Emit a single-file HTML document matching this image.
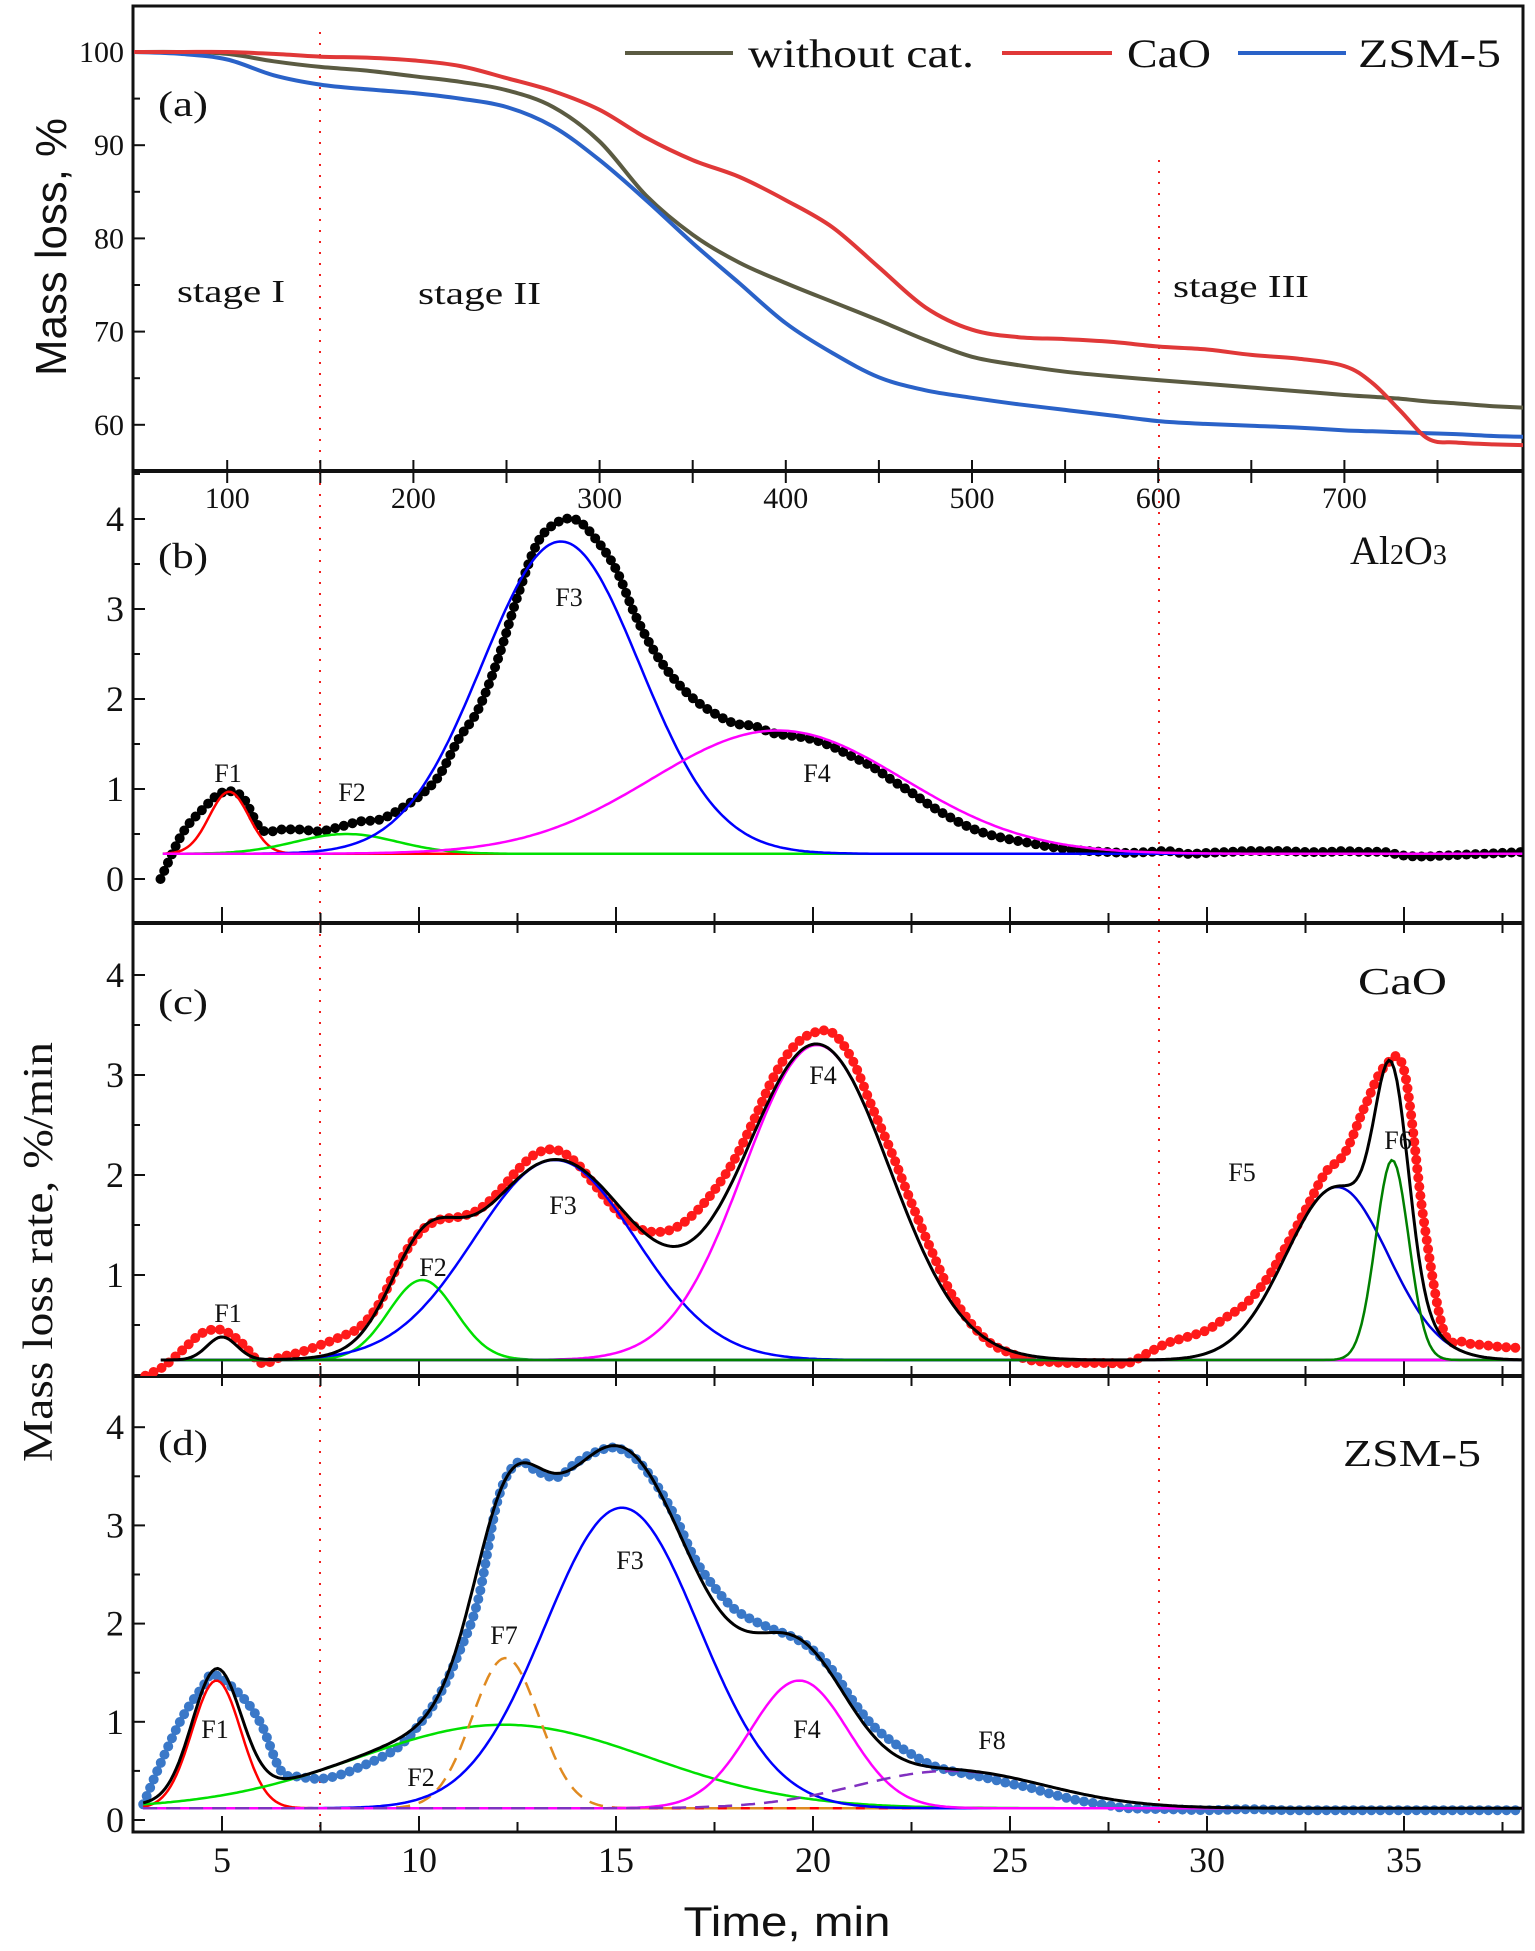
<!DOCTYPE html>
<html><head><meta charset="utf-8">
<style>
html,body{margin:0;padding:0;background:#fff;}
svg{display:block;}
text{font-family:"Liberation Serif",serif;fill:#111;}
.sans{font-family:"Liberation Sans",sans-serif;}
</style></head>
<body>
<svg id="chart" width="1535" height="1951" viewBox="0 0 1535 1951" xmlns="http://www.w3.org/2000/svg">
<defs>
<clipPath id="clipA"><rect x="133" y="6" width="1390" height="465"/></clipPath>
<clipPath id="clipB"><rect x="133" y="471" width="1390" height="452"/></clipPath>
<clipPath id="clipC"><rect x="133" y="923" width="1390" height="453"/></clipPath>
<clipPath id="clipD"><rect x="133" y="1376" width="1390" height="456"/></clipPath>
</defs>
<g id="layer"></g>
</svg>
<script>
// ---------- Panel (a) data: temperature (°C) vs mass (%) ----------
const tempA = [50,75,100,125,150,175,200,225,250,275,300,325,350,375,400,425,450,475,500,525,550,575,600,625,650,675,700,715,730,745,760,780,800];
const massNoCat = [100,100,99.8,99,98.4,98,97.4,96.8,95.9,94.1,90.4,84.6,80.4,77.4,75.2,73.2,71.2,69.1,67.3,66.4,65.7,65.2,64.8,64.4,64.0,63.6,63.2,63.0,62.8,62.5,62.3,62.0,61.8];
const massCaO = [100,100,100,99.8,99.5,99.4,99.1,98.5,97.2,95.8,93.8,90.8,88.4,86.6,84.1,81.2,76.9,72.6,70.2,69.4,69.2,68.9,68.4,68.1,67.5,67.1,66.3,64.5,61.5,58.5,58.1,57.9,57.8];
const massZSM = [100,99.8,99.2,97.5,96.5,96.0,95.6,95.0,94.1,92.0,88.4,84.1,79.5,75.2,70.9,67.7,65.1,63.7,62.9,62.2,61.6,61.0,60.4,60.1,59.9,59.7,59.4,59.3,59.2,59.1,59.0,58.8,58.7];
const tickA_x = [100,200,300,400,500,600,700];
const tickA_y = [60,70,80,90,100];

// ---------- Panels (b)-(d): time (min) vs rate (%/min) ----------
const timeB = [3.44,4,4.5,5,5.5,6,6.5,7,7.5,8,8.5,9,9.5,10,10.5,11,11.5,12,12.5,13,13.5,14,14.5,15,15.5,16,16.5,17,17.5,18,18.5,19,19.5,20,20.5,21,21.5,22,22.5,23,23.5,24,24.5,25,25.5,26,26.5,27,27.5,28,28.5,29,29.5,30,30.5,31,31.5,32,32.5,33,33.5,34,34.5,35,35.5,36,36.5,37,37.5,38];
const rateB = [0,0.51,0.77,0.96,0.92,0.55,0.55,0.55,0.53,0.58,0.64,0.66,0.77,0.92,1.14,1.55,1.88,2.44,3.14,3.73,3.96,3.99,3.77,3.44,2.92,2.51,2.21,1.99,1.84,1.73,1.7,1.62,1.59,1.55,1.47,1.36,1.25,1.1,0.96,0.81,0.68,0.57,0.49,0.44,0.4,0.36,0.33,0.31,0.3,0.29,0.3,0.31,0.28,0.29,0.3,0.31,0.31,0.31,0.3,0.3,0.31,0.3,0.3,0.26,0.25,0.26,0.27,0.28,0.29,0.3];
const timeC = [2.7,3,3.5,4,4.5,5,5.5,6,6.5,7,7.5,8,8.5,9,9.5,10,10.5,11,11.5,12,12.5,13,13.5,14,14.5,15,15.5,16,16.5,17,17.5,18,18.5,19,19.5,20,20.5,21,21.5,22,22.5,23,23.5,24,24.5,25,25.5,26,26.5,27,27.5,28,28.5,29,29.5,30,30.5,31,31.5,32,32.5,33,33.5,34,34.5,35,35.5,36,36.5,37,37.5,38];
const rateC = [-0.12,-0.02,0.08,0.25,0.42,0.45,0.32,0.12,0.18,0.23,0.3,0.38,0.48,0.72,1.12,1.42,1.55,1.58,1.65,1.82,2.05,2.22,2.25,2.12,1.88,1.65,1.48,1.43,1.47,1.62,1.85,2.15,2.55,2.98,3.28,3.42,3.42,3.15,2.68,2.22,1.72,1.25,0.82,0.52,0.32,0.22,0.15,0.13,0.12,0.12,0.12,0.12,0.22,0.32,0.38,0.45,0.58,0.72,0.95,1.28,1.65,2.02,2.22,2.68,3.08,3.05,1.55,0.45,0.33,0.3,0.28,0.27];
const timeD = [3,3.5,4,4.5,4.8,5.5,6,6.5,7,7.5,8,8.5,9,9.5,10,10.5,11,11.5,12,12.5,13,13.5,14,14.5,15,15.5,16,16.5,17,17.5,18,18.5,19,19.5,20,20.5,21,21.5,22,22.5,23,23.5,24,24.5,25,25.5,26,26.5,27,27.5,28,29,30,31,32,33,34,35,36,37,38];
const rateD = [0.16,0.63,1.05,1.35,1.48,1.26,0.97,0.5,0.44,0.42,0.46,0.54,0.63,0.75,0.97,1.26,1.69,2.24,3.26,3.64,3.55,3.49,3.64,3.75,3.79,3.68,3.43,3.09,2.66,2.37,2.15,2.03,1.94,1.86,1.73,1.52,1.22,0.97,0.8,0.67,0.56,0.5,0.46,0.42,0.37,0.33,0.27,0.22,0.18,0.15,0.12,0.11,0.1,0.11,0.1,0.1,0.1,0.1,0.1,0.1,0.1];

// fitted peak parameters: [label, amplitude, centre(min), sigma(min)]
const peaksB = [["F1",0.69,5.18,0.5],["F2",0.22,8.16,1.3],["F3",3.47,13.6,2.0],["F4",1.37,19.1,3.2]];
const peaksC = [["F1",0.23,5.0,0.38],["F2",0.8,10.08,0.85],["F3",2.0,13.45,2.05],["F4",3.15,20.1,1.85],["F5",1.73,33.3,1.3],["F6",2.0,34.7,0.42]];
const peaksD = [["F1",1.3,4.86,0.62],["F2",0.85,12.15,3.7],["F7",1.53,12.2,0.85],["F3",3.06,15.15,1.95],["F4",1.3,19.65,1.25],["F8",0.38,23.5,2.4]];
const baseB = 0.28, baseC = 0.15, baseD = 0.12;
const tickTime = [5,10,15,20,25,30,35];
const tickRate = [0,1,2,3,4];

// ---------- helpers ----------
const NS = "http://www.w3.org/2000/svg";
const layer = document.getElementById("layer");
function mk(tag, attrs, parent){ const e=document.createElementNS(NS,tag); for(const k in attrs) e.setAttribute(k,attrs[k]); (parent||layer).appendChild(e); return e; }
function txt(s, attrs, parent){ const e=mk("text",attrs,parent); e.textContent=s; return e; }
function smoothPath(pts){
  let d="M"+pts[0][0].toFixed(1)+","+pts[0][1].toFixed(1);
  for(let i=0;i<pts.length-1;i++){
    const p0=pts[Math.max(i-1,0)], p1=pts[i], p2=pts[i+1], p3=pts[Math.min(i+2,pts.length-1)];
    const c1=[p1[0]+(p2[0]-p0[0])/6, p1[1]+(p2[1]-p0[1])/6];
    const c2=[p2[0]-(p3[0]-p1[0])/6, p2[1]-(p3[1]-p1[1])/6];
    d+=" C"+c1[0].toFixed(1)+","+c1[1].toFixed(1)+" "+c2[0].toFixed(1)+","+c2[1].toFixed(1)+" "+p2[0].toFixed(1)+","+p2[1].toFixed(1);
  }
  return d;
}

const XT = T => 41 + 1.862*T;
const YA = v => 52 + (100 - v)*9.32;
const XM = t => 25 + 39.4*t;
const panels = {
  b:{y0:879,k:90,top:471,bot:923},
  c:{y0:1375,k:100,top:923,bot:1376},
  d:{y0:1820,k:98.2,top:1376,bot:1832}
};
const L=133,R=1523;

// ---------- frames ----------
const frames = mk("g",{});


mk("rect",{x:L,y:6,width:R-L,height:1832-6,fill:"none",stroke:"#111","stroke-width":3},frames);
[471,923,1376].forEach(y=>mk("line",{x1:L,x2:R,y1:y,y2:y,stroke:"#111","stroke-width":4},frames));

// stage divider lines
const st = mk("g",{});


mk("line",{x1:320,x2:320,y1:32,y2:1832,stroke:"#f02020","stroke-width":2,"stroke-dasharray":"2 9"},st);
mk("line",{x1:1159,x2:1159,y1:160,y2:1832,stroke:"#f02020","stroke-width":2,"stroke-dasharray":"2 9"},st);

// ---------- panel (a) ----------
const gA = mk("g",{});


for(let v=60; v<=100; v+=5){
  const y=YA(v); mk("line",{x1:L,x2:L+(v%10===0?12:7),y1:y,y2:y,stroke:"#111","stroke-width":2},gA);
}
tickA_y.forEach(v=>{ const t=txt(String(v),{x:124,y:YA(v)+10,"font-size":30,"text-anchor":"end"},gA);
    });
for(let T=100; T<=750; T+=50){
  const x=XT(T); mk("line",{x1:x,x2:x,y1:460,y2:483,stroke:"#111","stroke-width":2},gA);
}
tickA_x.forEach(T=>{ const t=txt(String(T),{x:XT(T),y:508,"font-size":30,"text-anchor":"middle"},gA);
    });
function lineA(vals,color,name){
  const pts = tempA.map((T,i)=>[XT(T),YA(vals[i])]);
  const p = mk("path",{d:smoothPath(pts),fill:"none",stroke:color,"stroke-width":4,"stroke-linejoin":"round","clip-path":"url(#clipA)"},gA);
   
}
lineA(massNoCat,"#5b5b42","line-without-cat");
lineA(massZSM,"#2a62c8","line-zsm5");
lineA(massCaO,"#e03838","line-cao");
const leg = mk("g",{},gA);


[[625,733,"#5b5b42",748,226,"without cat."],[1002,1112,"#e03838",1127,84,"CaO"],[1238,1346,"#2a62c8",1358,143,"ZSM-5"]].forEach(r=>{
  mk("line",{x1:r[0],x2:r[1],y1:53,y2:53,stroke:r[2],"stroke-width":4},leg);
  const t=txt(r[5],{x:r[3],y:67,"font-size":40,textLength:r[4],lengthAdjust:"spacingAndGlyphs"},leg);
   
});
txt("(a)",{x:158,y:116,"font-size":36,textLength:50,lengthAdjust:"spacingAndGlyphs"},gA);
txt("stage I",{x:177,y:302,"font-size":32,textLength:108,lengthAdjust:"spacingAndGlyphs"},gA);
txt("stage II",{x:418,y:304,"font-size":32,textLength:123,lengthAdjust:"spacingAndGlyphs"},gA);
txt("stage III",{x:1173,y:297,"font-size":32,textLength:136,lengthAdjust:"spacingAndGlyphs"},gA);
const yta = txt("Mass loss, %",{x:0,y:0,"font-size":44,"class":"sans",textLength:258,lengthAdjust:"spacingAndGlyphs","text-anchor":"middle",transform:"translate(66,247) rotate(-90)"},gA);


// ---------- rate panels ----------
function gauss(p,t){ return p[1]*Math.exp(-Math.pow(t-p[2],2)/(2*p[3]*p[3])); }
function ratePanel(key,times,rates,peaks,base,opts){
  const P=panels[key], Y=v=>P.y0-v*P.k;
  const g = mk("g",{});
  
  
  for(let v=0; v<=4.5; v+=0.5){ const y=Y(v); if(y<P.top+3||y>P.bot-3) continue;
    mk("line",{x1:L,x2:L+(v%1===0?12:7),y1:y,y2:y,stroke:"#111","stroke-width":2},g); }
  tickRate.forEach(v=>{ if(key==="c"&&v===0) return; const t=txt(String(v),{x:124,y:Y(v)+12,"font-size":36,"text-anchor":"end"},g);
      });
  for(let t=5; t<=37.5; t+=2.5){ const x=XM(t);
    mk("line",{x1:x,x2:x,y1:P.bot-(t%5===0?16:10),y2:P.bot+ (key==="d"?0:10),stroke:"#111","stroke-width":2},g); }
  const cg = mk("g",{"clip-path":"url(#clip"+key.toUpperCase()+")"},g);
  const pts = times.map((t,i)=>[XM(t),Y(rates[i])]);
  const dp = mk("path",{d:smoothPath(pts),fill:"none",stroke:opts.dot,"stroke-width":10,"stroke-linecap":"round","stroke-linejoin":"round","stroke-dasharray":"0 9"},cg);
  
  
  const t0=opts.t0, t1=38, N=500;
  peaks.forEach((p,j)=>{
    let d=""; for(let i=0;i<=N;i++){ const t=t0+(t1-t0)*i/N; d+=(i?"L":"M")+XM(t).toFixed(1)+","+Y(base+gauss(p,t)).toFixed(1)+" "; }
    const c = mk("path",{d:d,fill:"none",stroke:opts.colors[j],"stroke-width":2.5,"stroke-dasharray":opts.dash[j]||"none"},cg);
    
    
  });
  if(opts.fit){
    let d=""; for(let i=0;i<=N;i++){ const t=t0+(t1-t0)*i/N; let s=base; peaks.forEach(p=>s+=gauss(p,t)); d+=(i?"L":"M")+XM(t).toFixed(1)+","+Y(s).toFixed(1)+" "; }
    const f = mk("path",{d:d,fill:"none",stroke:"#000","stroke-width":3},cg);
    
    
  }
  opts.labels.forEach((lp,j)=>{ const t=txt(peaks[j][0],{x:lp[0],y:lp[1]+9,"font-size":26,"text-anchor":"middle"},g);
      });
  return g;
}
ratePanel("b",timeB,rateB,peaksB,baseB,{dot:"#000",t0:3.5,colors:["#ff0000","#00e000","#0000ff","#ff00ff"],dash:[],fit:false,
  labels:[[228,773],[352,792],[569,597],[817,773]]});
ratePanel("c",timeC,rateC,peaksC,baseC,{dot:"#ff1a1a",t0:3.45,colors:["#ff0000","#00e000","#0000ff","#ff00ff","#0000dd","#008000"],dash:[],fit:true,
  labels:[[228,1313],[433,1267],[563,1205],[823,1075],[1242,1172],[1398,1140]]});
ratePanel("d",timeD,rateD,peaksD,baseD,{dot:"#3a78c8",t0:3.0,colors:["#ff0000","#00e000","#e08a20","#0000ff","#ff00ff","#8030c0"],dash:[null,null,"14 9",null,null,"14 9"],fit:true,
  labels:[[215,1729],[421,1777],[504,1635],[630,1560],[807,1729],[992,1740]]});

[["(b)",158,568,"panel-label-b"],["(c)",158,1014,"panel-label-c"],["(d)",158,1455,"panel-label-d"]].forEach(a=>{
  const t=txt(a[0],{x:a[1],y:a[2],"font-size":36,textLength:50,lengthAdjust:"spacingAndGlyphs"});   });
const al = txt("",{x:1350,y:564,"font-size":40});


al.innerHTML='Al<tspan font-size="28">2</tspan>O<tspan font-size="28">3</tspan>';
txt("CaO",{x:1358,y:994,"font-size":38,textLength:89,lengthAdjust:"spacingAndGlyphs"});
txt("ZSM-5",{x:1343,y:1466,"font-size":38,textLength:138,lengthAdjust:"spacingAndGlyphs"});
tickTime.forEach(t=>{ const e=txt(String(t),{x:XM(t),y:1872,"font-size":36,"text-anchor":"middle"});
    });
const xt = txt("Time, min",{x:787,y:1936,"font-size":42,"class":"sans","text-anchor":"middle",textLength:207,lengthAdjust:"spacingAndGlyphs"});


const yt = txt("Mass loss rate, %/min",{x:0,y:0,"font-size":42,"text-anchor":"middle",textLength:420,lengthAdjust:"spacingAndGlyphs",transform:"translate(52,1252) rotate(-90)"});


</script>
</body></html>
